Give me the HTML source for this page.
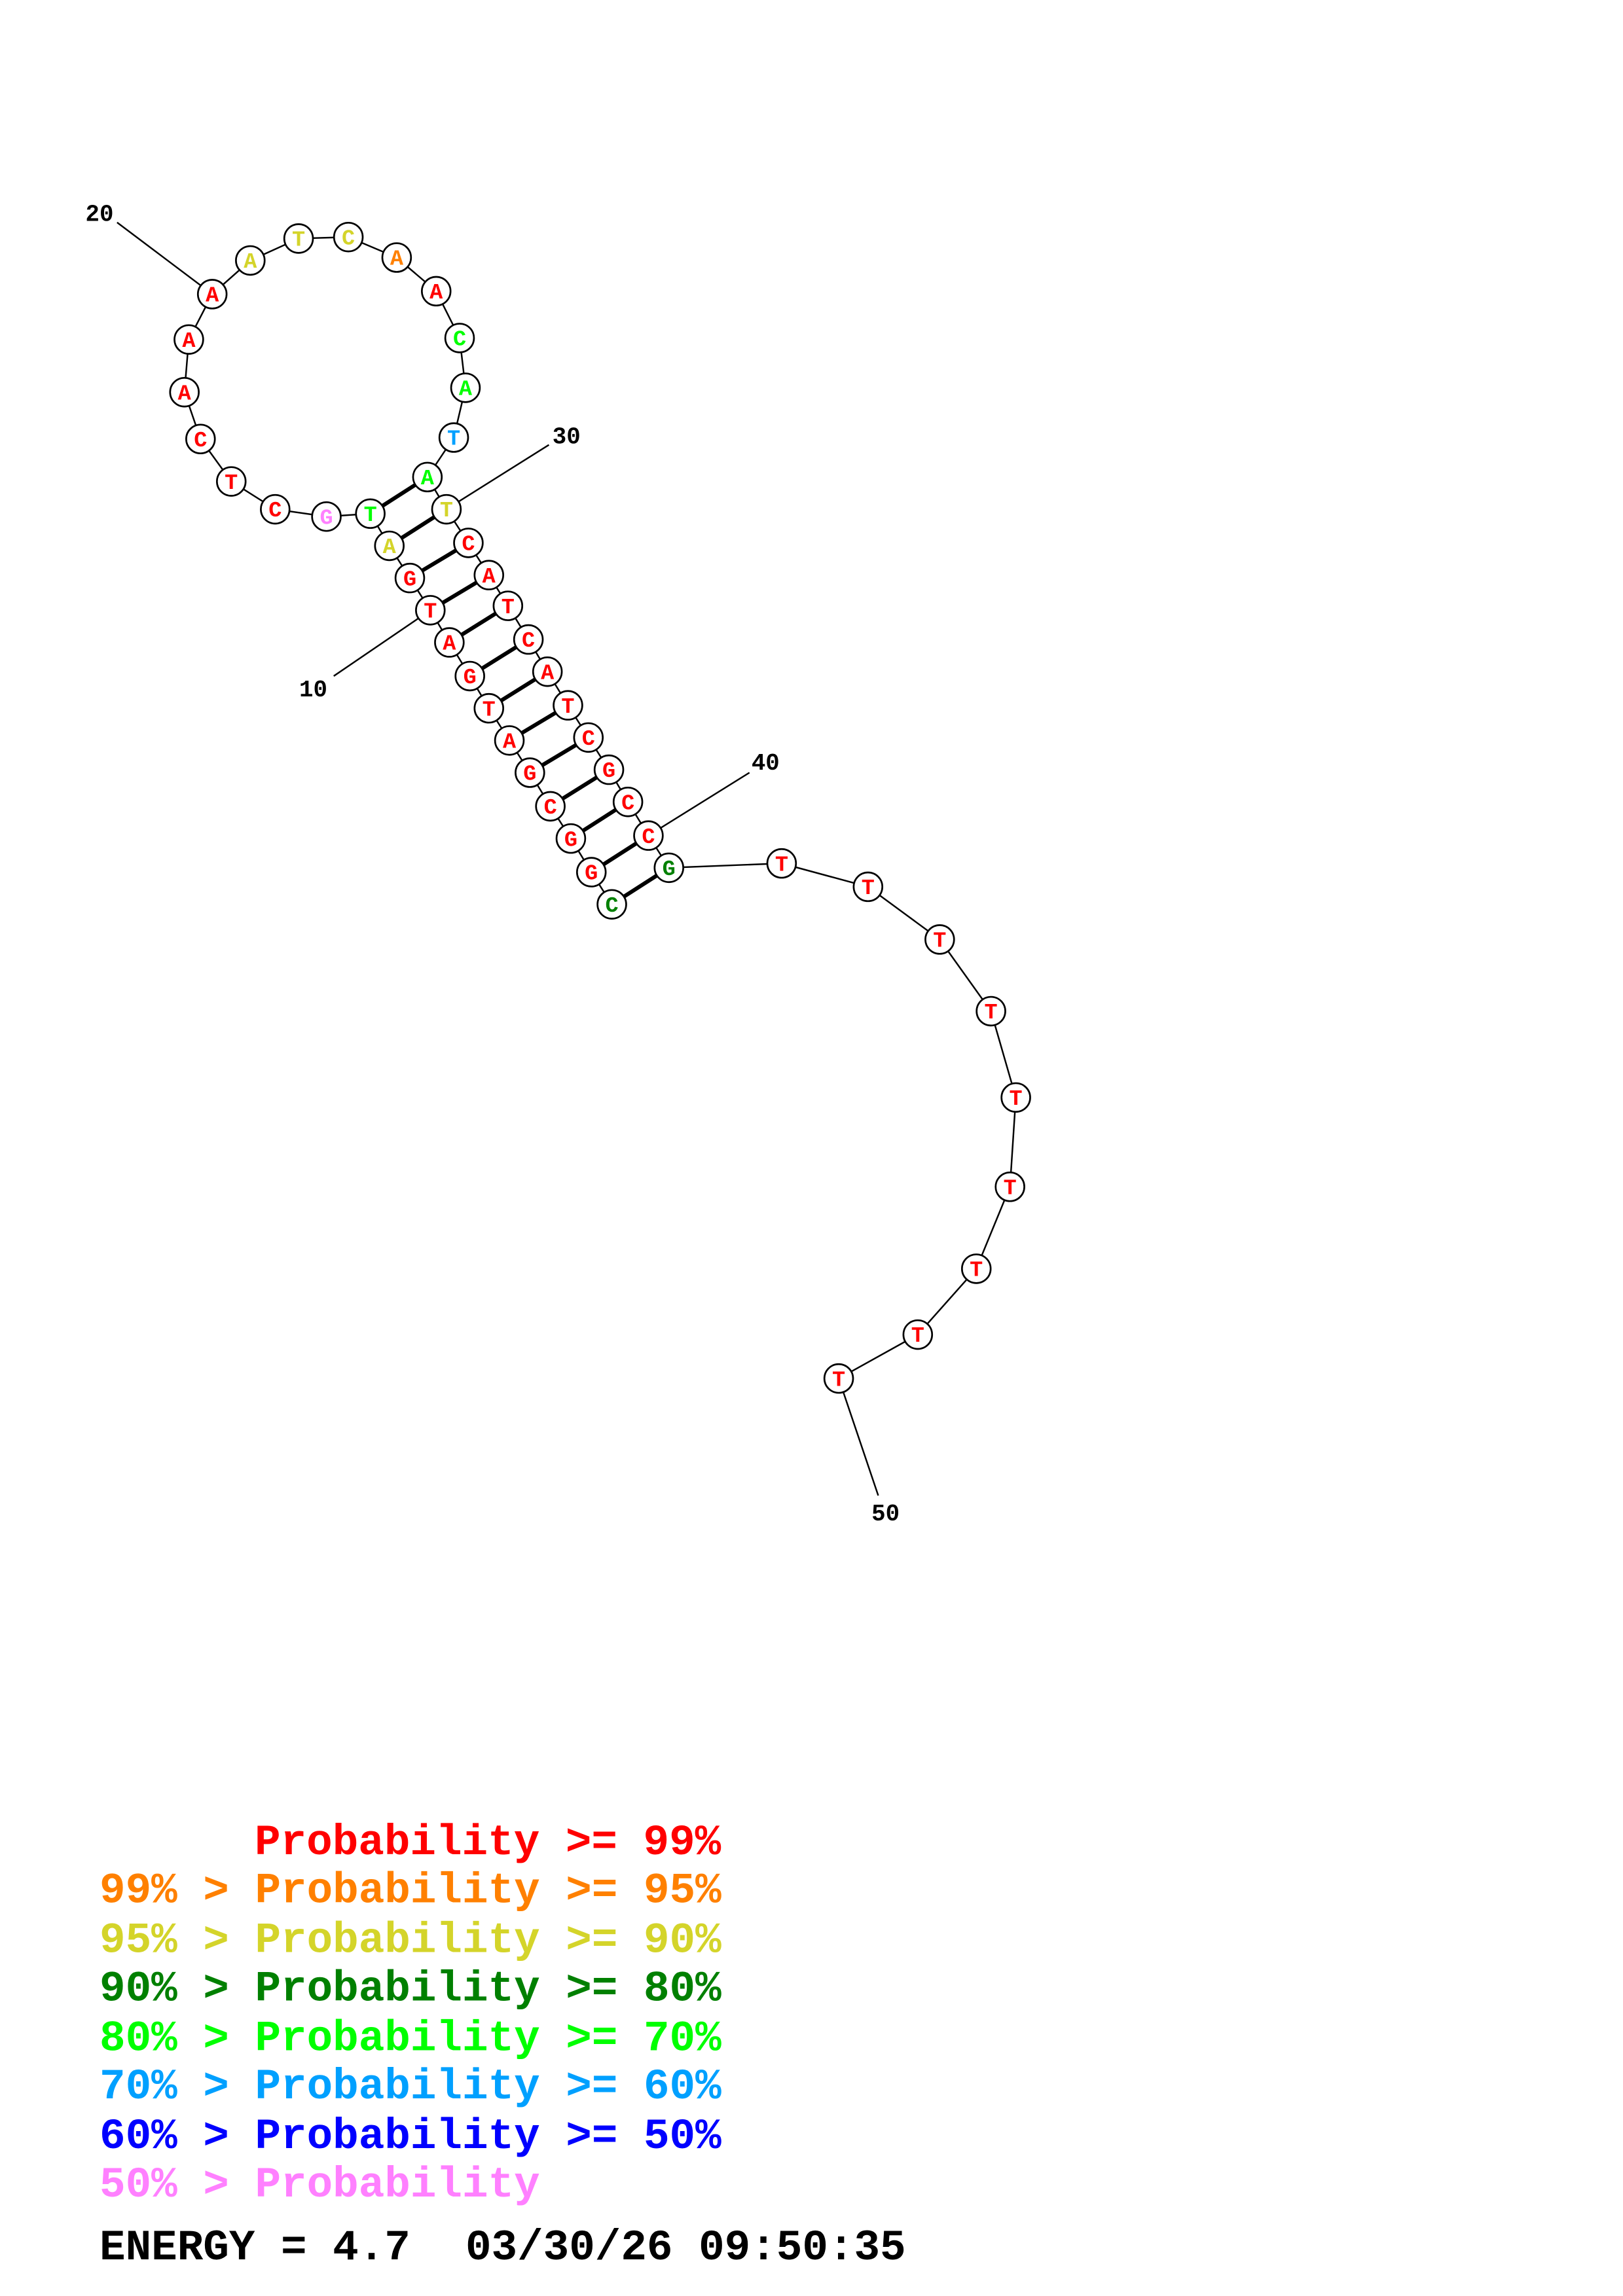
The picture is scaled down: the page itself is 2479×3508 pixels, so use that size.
<!DOCTYPE html>
<html><head><meta charset="utf-8"><style>
html,body{margin:0;padding:0;background:#fff;}
svg{display:block;}
text{font-family:"Liberation Mono",monospace;font-weight:bold;white-space:pre;}
</style></head><body>
<svg width="2479" height="3508" viewBox="0 0 1108.8 1569" preserveAspectRatio="none" xmlns="http://www.w3.org/2000/svg">
<rect width="1108.8" height="1569" fill="#fff"/>
<g stroke="#000" stroke-width="1.1" fill="none">
<polyline points="418,618 404,596 390,573 376,551 362,528 348,506 334,484 321,462 307,439 294,417 280,395 266,373 253,351 223,353 188,348 158,329 137,300 126,268 129,232 145,201 171,178 204,163 238,162 271,176 298,199 314,231 318,265 310,299 292,326 305,348 320,371 334,393 347,414 361,437 374,459 388,482 402,504 416,526 429,548 443,571 457,593 534,590 593,606 642,642 677,691 694,750 690,811 667,867 627,912 573,942"/>
<line x1="80" y1="152" x2="145" y2="201"/>
<line x1="305" y1="348" x2="375" y2="304"/>
<line x1="228" y1="462" x2="294" y2="417"/>
<line x1="443" y1="571" x2="512" y2="528"/>
<line x1="573" y1="942" x2="600" y2="1022"/>
</g>
<g stroke="#000" stroke-width="2.7">
<line x1="418" y1="618" x2="457" y2="593"/>
<line x1="404" y1="596" x2="443" y2="571"/>
<line x1="390" y1="573" x2="429" y2="548"/>
<line x1="376" y1="551" x2="416" y2="526"/>
<line x1="362" y1="528" x2="402" y2="504"/>
<line x1="348" y1="506" x2="388" y2="482"/>
<line x1="334" y1="484" x2="374" y2="459"/>
<line x1="321" y1="462" x2="361" y2="437"/>
<line x1="307" y1="439" x2="347" y2="414"/>
<line x1="294" y1="417" x2="334" y2="393"/>
<line x1="280" y1="395" x2="320" y2="371"/>
<line x1="266" y1="373" x2="305" y2="348"/>
<line x1="253" y1="351" x2="292" y2="326"/>
</g>
<g stroke="#000" stroke-width="1.2" fill="#fff">
<circle cx="418" cy="618" r="9.8"/><circle cx="404" cy="596" r="9.8"/><circle cx="390" cy="573" r="9.8"/><circle cx="376" cy="551" r="9.8"/><circle cx="362" cy="528" r="9.8"/><circle cx="348" cy="506" r="9.8"/><circle cx="334" cy="484" r="9.8"/><circle cx="321" cy="462" r="9.8"/><circle cx="307" cy="439" r="9.8"/><circle cx="294" cy="417" r="9.8"/><circle cx="280" cy="395" r="9.8"/><circle cx="266" cy="373" r="9.8"/><circle cx="253" cy="351" r="9.8"/><circle cx="223" cy="353" r="9.8"/><circle cx="188" cy="348" r="9.8"/><circle cx="158" cy="329" r="9.8"/><circle cx="137" cy="300" r="9.8"/><circle cx="126" cy="268" r="9.8"/><circle cx="129" cy="232" r="9.8"/><circle cx="145" cy="201" r="9.8"/><circle cx="171" cy="178" r="9.8"/><circle cx="204" cy="163" r="9.8"/><circle cx="238" cy="162" r="9.8"/><circle cx="271" cy="176" r="9.8"/><circle cx="298" cy="199" r="9.8"/><circle cx="314" cy="231" r="9.8"/><circle cx="318" cy="265" r="9.8"/><circle cx="310" cy="299" r="9.8"/><circle cx="292" cy="326" r="9.8"/><circle cx="305" cy="348" r="9.8"/><circle cx="320" cy="371" r="9.8"/><circle cx="334" cy="393" r="9.8"/><circle cx="347" cy="414" r="9.8"/><circle cx="361" cy="437" r="9.8"/><circle cx="374" cy="459" r="9.8"/><circle cx="388" cy="482" r="9.8"/><circle cx="402" cy="504" r="9.8"/><circle cx="416" cy="526" r="9.8"/><circle cx="429" cy="548" r="9.8"/><circle cx="443" cy="571" r="9.8"/><circle cx="457" cy="593" r="9.8"/><circle cx="534" cy="590" r="9.8"/><circle cx="593" cy="606" r="9.8"/><circle cx="642" cy="642" r="9.8"/><circle cx="677" cy="691" r="9.8"/><circle cx="694" cy="750" r="9.8"/><circle cx="690" cy="811" r="9.8"/><circle cx="667" cy="867" r="9.8"/><circle cx="627" cy="912" r="9.8"/><circle cx="573" cy="942" r="9.8"/>
</g>
<g font-size="15" text-anchor="middle" fill="#ff0000">
<text x="418" y="623" fill="#008000">C</text><text x="404" y="601">G</text><text x="390" y="578">G</text><text x="376" y="556">C</text><text x="362" y="533">G</text><text x="348" y="511">A</text><text x="334" y="489">T</text><text x="321" y="467">G</text><text x="307" y="444">A</text><text x="294" y="422">T</text><text x="280" y="400">G</text><text x="266" y="378" fill="#d4d42a">A</text><text x="253" y="356" fill="#00ff00">T</text><text x="223" y="358" fill="#ff80ff">G</text><text x="188" y="353">C</text><text x="158" y="334">T</text><text x="137" y="305">C</text><text x="126" y="273">A</text><text x="129" y="237">A</text><text x="145" y="206">A</text><text x="171" y="183" fill="#d4d42a">A</text><text x="204" y="168" fill="#d4d42a">T</text><text x="238" y="167" fill="#d4d42a">C</text><text x="271" y="181" fill="#ff8000">A</text><text x="298" y="204">A</text><text x="314" y="236" fill="#00ff00">C</text><text x="318" y="270" fill="#00ff00">A</text><text x="310" y="304" fill="#00a0ff">T</text><text x="292" y="331" fill="#00ff00">A</text><text x="305" y="353" fill="#d4d42a">T</text><text x="320" y="376">C</text><text x="334" y="398">A</text><text x="347" y="419">T</text><text x="361" y="442">C</text><text x="374" y="464">A</text><text x="388" y="487">T</text><text x="402" y="509">C</text><text x="416" y="531">G</text><text x="429" y="553">C</text><text x="443" y="576">C</text><text x="457" y="598" fill="#008000">G</text><text x="534" y="595">T</text><text x="593" y="611">T</text><text x="642" y="647">T</text><text x="677" y="696">T</text><text x="694" y="755">T</text><text x="690" y="816">T</text><text x="667" y="872">T</text><text x="627" y="917">T</text><text x="573" y="947">T</text>
</g>
<g font-size="16" fill="#000" text-anchor="middle">
<text x="68" y="151">20</text><text x="387" y="303">30</text><text x="214" y="476">10</text><text x="523" y="526">40</text><text x="605" y="1039">50</text>
</g>
<g font-size="29.5">
<text x="174" y="1267" fill="#ff0000">Probability &gt;= 99%</text>
<text x="68" y="1300" fill="#ff8000">99% &gt; Probability &gt;= 95%</text>
<text x="68" y="1334" fill="#d4d42a">95% &gt; Probability &gt;= 90%</text>
<text x="68" y="1367" fill="#008000">90% &gt; Probability &gt;= 80%</text>
<text x="68" y="1401" fill="#00ff00">80% &gt; Probability &gt;= 70%</text>
<text x="68" y="1434" fill="#00a0ff">70% &gt; Probability &gt;= 60%</text>
<text x="68" y="1468" fill="#0000ff">60% &gt; Probability &gt;= 50%</text>
<text x="68" y="1501" fill="#ff80ff">50% &gt; Probability</text>
<text x="68" y="1544" fill="#000">ENERGY = 4.7<tspan x="318">03/30/26 09:50:35</tspan></text>
</g>
</svg>
</body></html>
